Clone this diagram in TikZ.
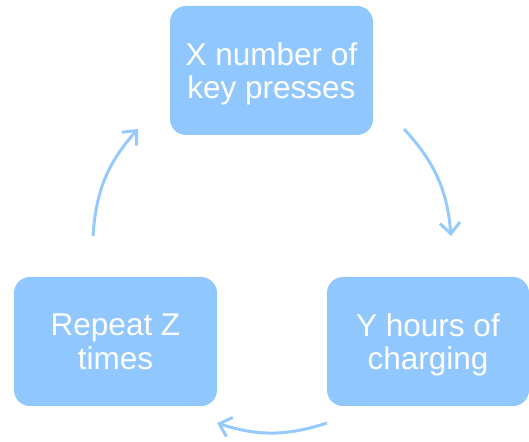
\documentclass[tikz,border=0pt]{standalone}
\usepackage{fontspec}
\setmainfont{Liberation Sans}
\usetikzlibrary{arrows.meta}
\definecolor{boxblue}{RGB}{145,199,255}
\definecolor{arrowblue}{RGB}{150,202,255}
\begin{document}
\begin{tikzpicture}[x=1pt,y=1pt,
  stepbox/.style={fill=boxblue, draw=none, rounded corners=16pt,
    minimum width=203pt, minimum height=129pt, inner sep=0pt,
    text=white, align=center,
    font=\fontsize{31.5}{33.5}\selectfont},
  cyc/.style={draw=arrowblue, line width=3pt,
    -{Straight Barb[length=11pt,width=20pt,line width=3pt]}}]
\useasboundingbox (0,0) rectangle (529,441);
\node[stepbox] (top) at (271.5,370.5) {X number of\\\smash{key presses}};
\node[stepbox, minimum width=202pt] (br) at (428,99.5) {Y hours of\\\smash{charging}};
\node[stepbox] (bl) at (115.5,99.5) {Repeat Z\\\smash{times}};
\coordinate (l1) at (93,205);
\coordinate (l2) at (138,312);
\coordinate (r1) at (404,312);
\coordinate (r2) at (451,205);
\coordinate (b1) at (327,18);
\coordinate (b2) at (217,18);
\draw[cyc] (l1) to[bend left=19] (l2);
\draw[cyc] (r1) to[bend left=19] (r2);
\draw[cyc] (b1) to[bend left=18] (b2);
\end{tikzpicture}
\end{document}
